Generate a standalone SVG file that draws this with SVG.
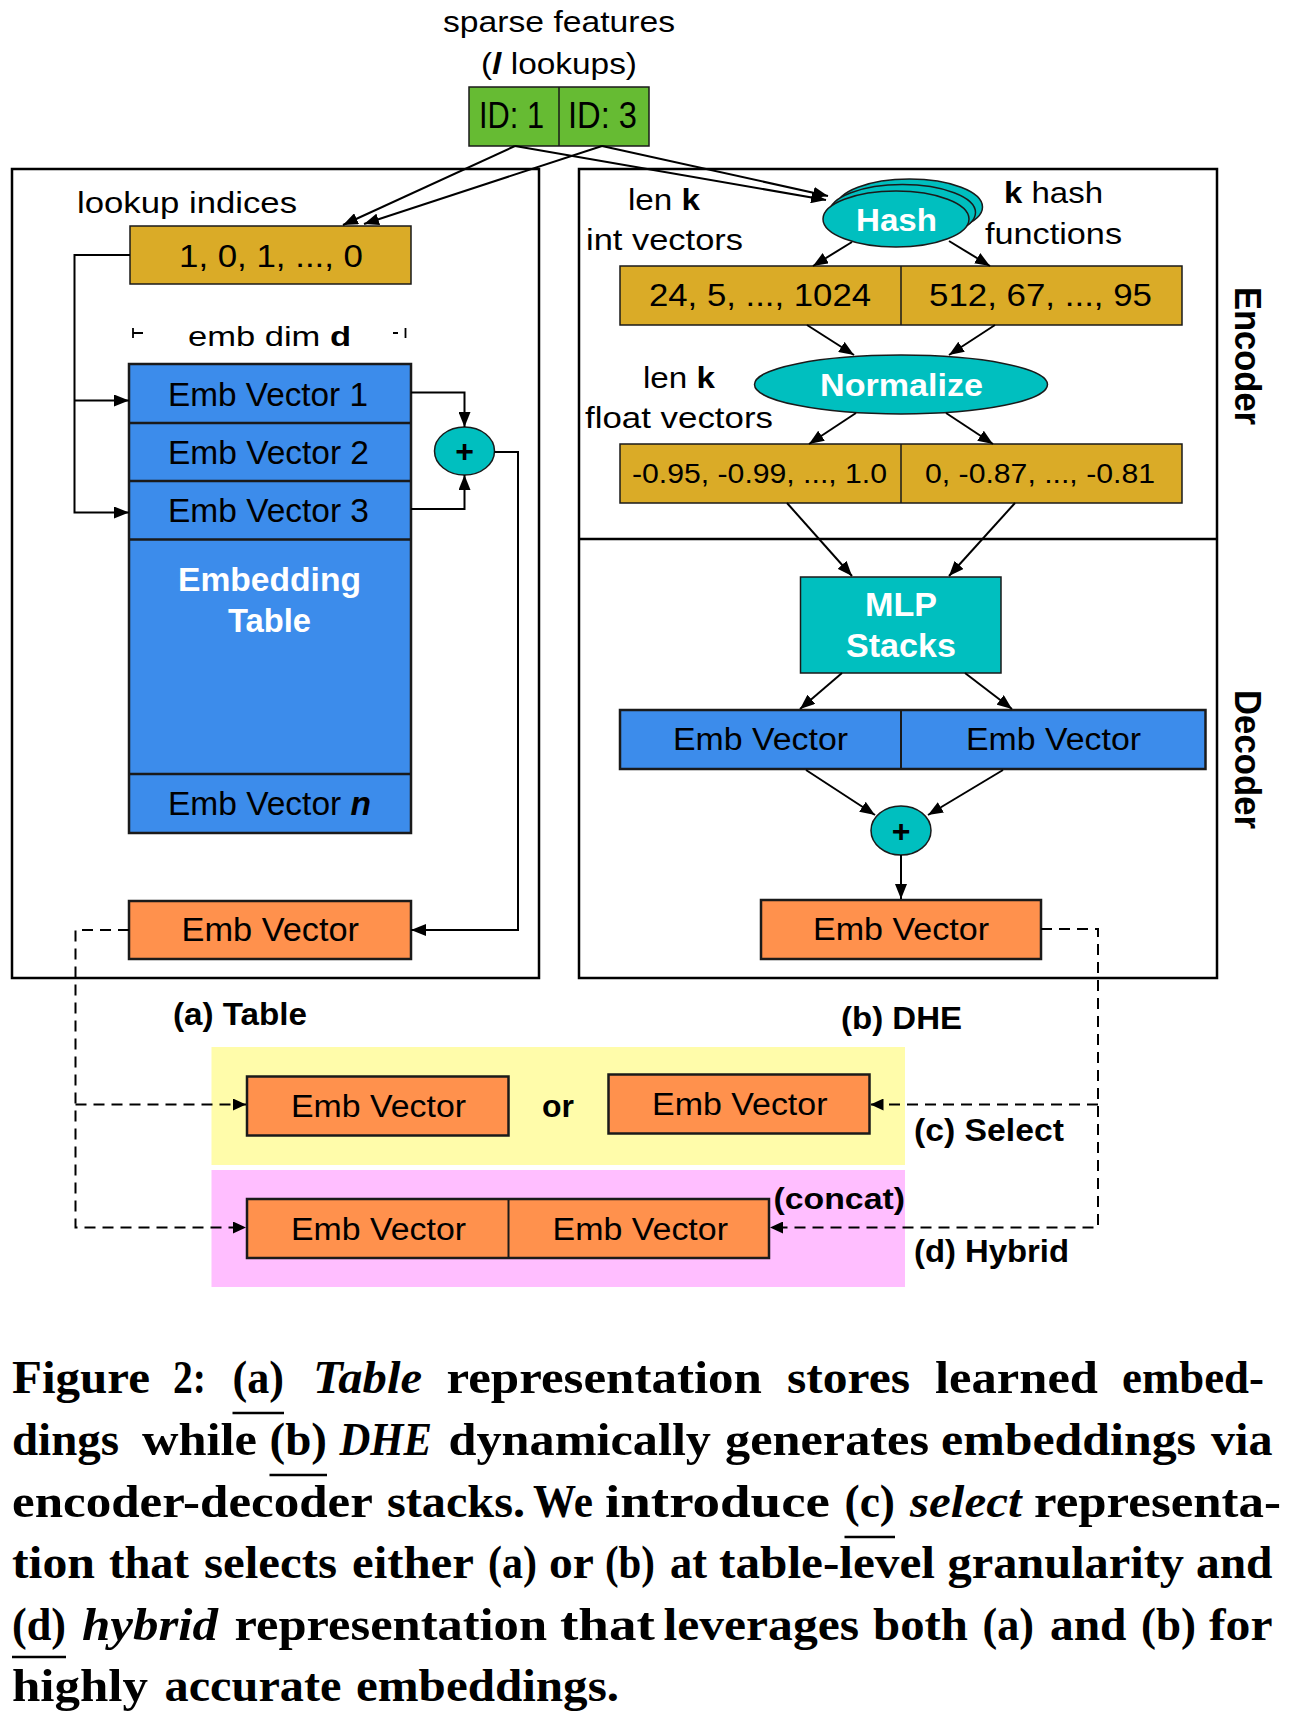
<svg xmlns="http://www.w3.org/2000/svg" width="1290" height="1717" viewBox="0 0 1290 1717">
<defs>
<marker id="ah" markerUnits="userSpaceOnUse" markerWidth="16" markerHeight="12" refX="15" refY="6" orient="auto"><path d="M0,0 L15,6 L0,12 z" fill="#000"/></marker>
<marker id="ahs" markerUnits="userSpaceOnUse" markerWidth="14" markerHeight="12" refX="13" refY="6" orient="auto"><path d="M0,0 L13,6 L0,12 z" fill="#000"/></marker>
</defs>
<style>
.t{font-family:"Liberation Sans",Arial,Helvetica,sans-serif;fill:#000}
.b{font-weight:bold}
.w{fill:#fff}
.box{stroke:#1a1a1a;stroke-width:2.5}
.thin{stroke:#1a1a1a;stroke-width:1.5}
.panel{fill:none;stroke:#000;stroke-width:2.5}
.ln{fill:none;stroke:#000;stroke-width:2}
.dash{fill:none;stroke:#000;stroke-width:2;stroke-dasharray:11 7}
.green{fill:#66BB33}
.gold{fill:#DAAB27}
.blue{fill:#3C8CEB}
.teal{fill:#00BFBF}
.orange{fill:#FF914D}
.cap{font-family:"Liberation Serif","Times New Roman",serif;font-weight:bold;font-size:46px;fill:#000}
.it{font-style:italic}
.ul{stroke:#000;stroke-width:2.5}
</style>
<rect width="1290" height="1717" fill="#fff"/>

<!-- backgrounds -->
<g id="select-region"><rect x="211.5" y="1047" width="693.5" height="118" fill="#FFFCAA"/></g>
<g id="hybrid-region"><rect x="211.5" y="1170" width="693.5" height="117" fill="#FFBEFF"/></g>

<!-- panels -->
<g id="panel-table"><rect class="panel" x="12" y="169" width="527" height="809"/></g>
<g id="panel-dhe"><rect class="panel" x="579" y="169" width="638" height="809"/><line x1="579" y1="539" x2="1217" y2="539" stroke="#000" stroke-width="2.5"/></g>

<!-- top input -->
<g id="sparse-features">
<text class="t" x="443" y="32" font-size="30" textLength="232" lengthAdjust="spacingAndGlyphs">sparse features</text>
<text class="t" x="481" y="74" font-size="30" textLength="156" lengthAdjust="spacingAndGlyphs">(<tspan class="b it">l</tspan> lookups)</text>
<rect class="green thin" x="469" y="87" width="180" height="59"/>
<line x1="559" y1="87" x2="559" y2="146" stroke="#1a1a1a" stroke-width="1.5"/>
<text class="t" x="479" y="128" font-size="36" textLength="65" lengthAdjust="spacingAndGlyphs">ID: 1</text>
<text class="t" x="568" y="128" font-size="36" textLength="69" lengthAdjust="spacingAndGlyphs">ID: 3</text>
</g>

<!-- (a) Table panel nodes -->
<g id="lookup-indices">
<text class="t" x="77" y="213" font-size="30" textLength="220" lengthAdjust="spacingAndGlyphs">lookup indices</text>
<rect class="gold thin" x="130" y="226" width="281" height="58"/>
<text class="t" x="179" y="267" font-size="31" textLength="184" lengthAdjust="spacingAndGlyphs">1, 0, 1, ..., 0</text>
</g>
<g id="emb-dim">
<text class="t" x="188" y="345.5" font-size="28" textLength="163" lengthAdjust="spacingAndGlyphs">emb dim <tspan class="b">d</tspan></text>
<path d="M133 328 V338 M133 333 H143 M393 333 H398 M405.5 328 V338" stroke="#000" stroke-width="1.8" fill="none"/>
</g>
<g id="embedding-table">
<rect class="blue box" x="129" y="364" width="282" height="469"/>
<path d="M129 423 H411 M129 481 H411 M129 539.5 H411 M129 774 H411" stroke="#1a1a1a" stroke-width="2.5"/>
<text class="t" x="168" y="406" font-size="33" textLength="200" lengthAdjust="spacingAndGlyphs">Emb Vector 1</text>
<text class="t" x="168" y="464" font-size="33" textLength="201" lengthAdjust="spacingAndGlyphs">Emb Vector 2</text>
<text class="t" x="168" y="522" font-size="33" textLength="201" lengthAdjust="spacingAndGlyphs">Emb Vector 3</text>
<text class="t b w" x="178" y="591" font-size="33" textLength="183" lengthAdjust="spacingAndGlyphs">Embedding</text>
<text class="t b w" x="228" y="631.5" font-size="33" textLength="83" lengthAdjust="spacingAndGlyphs">Table</text>
<text class="t" x="168" y="815" font-size="33" textLength="203" lengthAdjust="spacingAndGlyphs">Emb Vector <tspan class="b it">n</tspan></text>
</g>
<g id="sum-table">
<ellipse class="teal thin" cx="464.5" cy="451" rx="30" ry="24"/>
<text class="t b" x="464.5" y="462" font-size="32" text-anchor="middle">+</text>
</g>
<g id="emb-vector-table">
<rect class="orange box" x="129" y="901" width="282" height="58"/>
<text class="t" x="181.5" y="941" font-size="33" textLength="177.5" lengthAdjust="spacingAndGlyphs">Emb Vector</text>
</g>
<g id="label-a"><text class="t b" x="173" y="1024.5" font-size="31" textLength="134" lengthAdjust="spacingAndGlyphs">(a) Table</text></g>

<!-- (b) DHE panel nodes -->
<g id="label-int">
<text class="t" x="628" y="210" font-size="29" textLength="72" lengthAdjust="spacingAndGlyphs">len <tspan class="b">k</tspan></text>
<text class="t" x="586" y="250" font-size="29" textLength="157" lengthAdjust="spacingAndGlyphs">int vectors</text>
</g>
<g id="hash">
<ellipse class="teal thin" cx="909.5" cy="207" rx="73" ry="28"/>
<ellipse class="teal thin" cx="902.5" cy="212.5" rx="73" ry="28"/>
<ellipse class="teal thin" cx="896" cy="219" rx="73" ry="28"/>
<text class="t b w" x="856" y="231" font-size="32" textLength="81" lengthAdjust="spacingAndGlyphs">Hash</text>
<text class="t" x="1004" y="203" font-size="29" textLength="99" lengthAdjust="spacingAndGlyphs"><tspan class="b">k</tspan> hash</text>
<text class="t" x="985" y="244" font-size="29" textLength="137" lengthAdjust="spacingAndGlyphs">functions</text>
</g>
<g id="int-vectors">
<rect class="gold thin" x="620" y="266" width="562" height="59"/>
<line x1="901" y1="266" x2="901" y2="325" stroke="#1a1a1a" stroke-width="1.5"/>
<text class="t" x="649" y="306" font-size="31" textLength="222" lengthAdjust="spacingAndGlyphs">24, 5, ..., 1024</text>
<text class="t" x="929" y="306" font-size="31" textLength="223" lengthAdjust="spacingAndGlyphs">512, 67, ..., 95</text>
</g>
<g id="normalize">
<ellipse class="teal thin" cx="901" cy="384.5" rx="146.5" ry="29.5"/>
<text class="t b w" x="820" y="396" font-size="32" textLength="163" lengthAdjust="spacingAndGlyphs">Normalize</text>
</g>
<g id="label-float">
<text class="t" x="643" y="388" font-size="29" textLength="72" lengthAdjust="spacingAndGlyphs">len <tspan class="b">k</tspan></text>
<text class="t" x="585" y="428" font-size="29" textLength="188" lengthAdjust="spacingAndGlyphs">float vectors</text>
</g>
<g id="float-vectors">
<rect class="gold thin" x="620" y="444" width="562" height="59"/>
<line x1="901" y1="444" x2="901" y2="503" stroke="#1a1a1a" stroke-width="1.5"/>
<text class="t" x="632" y="483" font-size="27" textLength="255" lengthAdjust="spacingAndGlyphs">-0.95, -0.99, ..., 1.0</text>
<text class="t" x="925" y="483" font-size="27" textLength="230" lengthAdjust="spacingAndGlyphs">0, -0.87, ..., -0.81</text>
</g>
<g id="label-encoder"><text class="t b" transform="translate(1235,287) rotate(90)" font-size="37" textLength="138" lengthAdjust="spacingAndGlyphs">Encoder</text></g>
<g id="label-decoder"><text class="t b" transform="translate(1235,690) rotate(90)" font-size="37" textLength="139" lengthAdjust="spacingAndGlyphs">Decoder</text></g>
<g id="mlp">
<rect class="teal thin" x="800.5" y="577" width="200.5" height="96"/>
<text class="t b w" x="865" y="616" font-size="33" textLength="72" lengthAdjust="spacingAndGlyphs">MLP</text>
<text class="t b w" x="846" y="656.5" font-size="33" textLength="110" lengthAdjust="spacingAndGlyphs">Stacks</text>
</g>
<g id="dhe-emb-vectors">
<rect class="blue box" x="620" y="710" width="585.5" height="59"/>
<line x1="901" y1="710" x2="901" y2="769" stroke="#1a1a1a" stroke-width="2"/>
<text class="t" x="673" y="750" font-size="31" textLength="175" lengthAdjust="spacingAndGlyphs">Emb Vector</text>
<text class="t" x="966" y="750" font-size="31" textLength="175" lengthAdjust="spacingAndGlyphs">Emb Vector</text>
</g>
<g id="sum-dhe">
<ellipse class="teal thin" cx="901" cy="830.5" rx="30" ry="24.5"/>
<text class="t b" x="901" y="842" font-size="32" text-anchor="middle">+</text>
</g>
<g id="emb-vector-dhe">
<rect class="orange box" x="761" y="900" width="280" height="59"/>
<text class="t" x="813" y="940" font-size="31" textLength="176" lengthAdjust="spacingAndGlyphs">Emb Vector</text>
</g>
<g id="label-b"><text class="t b" x="841" y="1028.5" font-size="31" textLength="121" lengthAdjust="spacingAndGlyphs">(b) DHE</text></g>

<!-- (c) select -->
<g id="select-a">
<rect class="orange box" x="247" y="1076.5" width="261.5" height="59"/>
<text class="t" x="291" y="1117" font-size="31" textLength="175" lengthAdjust="spacingAndGlyphs">Emb Vector</text>
</g>
<g id="select-or"><text class="t b" x="542" y="1117" font-size="31" textLength="32" lengthAdjust="spacingAndGlyphs">or</text></g>
<g id="select-b">
<rect class="orange box" x="608.5" y="1074.5" width="261" height="59"/>
<text class="t" x="652" y="1114.5" font-size="31" textLength="175.5" lengthAdjust="spacingAndGlyphs">Emb Vector</text>
</g>
<g id="label-c"><text class="t b" x="914" y="1141" font-size="31" textLength="150" lengthAdjust="spacingAndGlyphs">(c) Select</text></g>

<!-- (d) hybrid -->
<g id="hybrid-concat">
<rect class="orange box" x="247" y="1199" width="522" height="59"/>
<line x1="508.5" y1="1199" x2="508.5" y2="1258" stroke="#1a1a1a" stroke-width="2"/>
<text class="t" x="291" y="1239.5" font-size="31" textLength="175" lengthAdjust="spacingAndGlyphs">Emb Vector</text>
<text class="t" x="552.5" y="1239.5" font-size="31" textLength="175.5" lengthAdjust="spacingAndGlyphs">Emb Vector</text>
</g>
<g id="label-concat"><text class="t b" x="773.5" y="1209" font-size="30" textLength="131.5" lengthAdjust="spacingAndGlyphs">(concat)</text></g>
<g id="label-d"><text class="t b" x="914" y="1262" font-size="31" textLength="155" lengthAdjust="spacingAndGlyphs">(d) Hybrid</text></g>

<!-- connectors -->
<g id="connectors">
<path class="ln" d="M515 146 L343 225" marker-end="url(#ah)"/>
<path class="ln" d="M602 146 L364 224" marker-end="url(#ah)"/>
<path class="ln" d="M515 146 L826 200" marker-end="url(#ah)"/>
<path class="ln" d="M602 146 L828 196" marker-end="url(#ah)"/>
<path class="ln" d="M130 255 H74.5 V512.5 H129" marker-end="url(#ah)"/>
<path class="ln" d="M74.5 400.5 H129" marker-end="url(#ah)"/>
<path class="ln" d="M411 392.5 H464.5 V427" marker-end="url(#ah)"/>
<path class="ln" d="M411 509 H464.5 V475" marker-end="url(#ah)"/>
<path class="ln" d="M494.5 452 H518 V930 H411" marker-end="url(#ah)"/>
<path class="ln" d="M852 242 L813 266" marker-end="url(#ah)"/>
<path class="ln" d="M949 241 L990 266" marker-end="url(#ah)"/>
<path class="ln" d="M807 325 L854 355" marker-end="url(#ah)"/>
<path class="ln" d="M995 325 L949 355" marker-end="url(#ah)"/>
<path class="ln" d="M856 413 L809 444" marker-end="url(#ah)"/>
<path class="ln" d="M946 413 L993 444" marker-end="url(#ah)"/>
<path class="ln" d="M787 503 L852 576" marker-end="url(#ah)"/>
<path class="ln" d="M1015 503 L949 576" marker-end="url(#ah)"/>
<path class="ln" d="M842 673 L800 709" marker-end="url(#ah)"/>
<path class="ln" d="M965 673 L1012 709" marker-end="url(#ah)"/>
<path class="ln" d="M806 770 L875 815" marker-end="url(#ah)"/>
<path class="ln" d="M1003 770 L928 815" marker-end="url(#ah)"/>
<path class="ln" d="M901 855 V899" marker-end="url(#ah)"/>
<path class="dash" d="M129 930 H75.5 V1227.5 H246" marker-end="url(#ahs)"/>
<path class="dash" d="M75.5 1104.5 H246" marker-end="url(#ahs)"/>
<path class="dash" d="M1041 929 H1098 V1227.5 H770" marker-end="url(#ahs)"/>
<path class="dash" d="M1098 1104.5 H870.5" marker-end="url(#ahs)"/>
</g>

<!-- caption -->
<g id="caption">
<text class="cap" y="1393"><tspan x="12" textLength="138" lengthAdjust="spacingAndGlyphs">Figure</tspan> <tspan x="173" textLength="33" lengthAdjust="spacingAndGlyphs">2:</tspan> <tspan x="232.5" textLength="51.5" lengthAdjust="spacingAndGlyphs">(a)</tspan> <tspan class="it" x="313" textLength="109" lengthAdjust="spacingAndGlyphs">Table</tspan> <tspan x="446.5" textLength="315.5" lengthAdjust="spacingAndGlyphs">representation</tspan> <tspan x="787" textLength="123" lengthAdjust="spacingAndGlyphs">stores</tspan> <tspan x="935" textLength="163" lengthAdjust="spacingAndGlyphs">learned</tspan> <tspan x="1122" textLength="142" lengthAdjust="spacingAndGlyphs">embed-</tspan></text>
<text class="cap" y="1455"><tspan x="12" textLength="107" lengthAdjust="spacingAndGlyphs">dings</tspan> <tspan x="142" textLength="115" lengthAdjust="spacingAndGlyphs">while</tspan> <tspan x="269.5" textLength="57.5" lengthAdjust="spacingAndGlyphs">(b)</tspan> <tspan class="it" x="339.5" textLength="92.5" lengthAdjust="spacingAndGlyphs">DHE</tspan> <tspan x="448.5" textLength="262.5" lengthAdjust="spacingAndGlyphs">dynamically</tspan> <tspan x="725" textLength="204" lengthAdjust="spacingAndGlyphs">generates</tspan> <tspan x="941" textLength="255" lengthAdjust="spacingAndGlyphs">embeddings</tspan> <tspan x="1211" textLength="61.5" lengthAdjust="spacingAndGlyphs">via</tspan></text>
<text class="cap" y="1517"><tspan x="12" textLength="360" lengthAdjust="spacingAndGlyphs">encoder-decoder</tspan> <tspan x="387" textLength="138" lengthAdjust="spacingAndGlyphs">stacks.</tspan> <tspan x="533" textLength="60" lengthAdjust="spacingAndGlyphs">We</tspan> <tspan x="605" textLength="225" lengthAdjust="spacingAndGlyphs">introduce</tspan> <tspan x="844.5" textLength="50.5" lengthAdjust="spacingAndGlyphs">(c)</tspan> <tspan class="it" x="910" textLength="111.5" lengthAdjust="spacingAndGlyphs">select</tspan> <tspan x="1034" textLength="247" lengthAdjust="spacingAndGlyphs">representa-</tspan></text>
<text class="cap" y="1578"><tspan x="12" textLength="83" lengthAdjust="spacingAndGlyphs">tion</tspan> <tspan x="109" textLength="80" lengthAdjust="spacingAndGlyphs">that</tspan> <tspan x="204" textLength="133" lengthAdjust="spacingAndGlyphs">selects</tspan> <tspan x="352" textLength="121" lengthAdjust="spacingAndGlyphs">either</tspan> <tspan x="488" textLength="49" lengthAdjust="spacingAndGlyphs">(a)</tspan> <tspan x="549" textLength="44" lengthAdjust="spacingAndGlyphs">or</tspan> <tspan x="605" textLength="50" lengthAdjust="spacingAndGlyphs">(b)</tspan> <tspan x="670" textLength="37" lengthAdjust="spacingAndGlyphs">at</tspan> <tspan x="719" textLength="216" lengthAdjust="spacingAndGlyphs">table-level</tspan> <tspan x="947.5" textLength="236.5" lengthAdjust="spacingAndGlyphs">granularity</tspan> <tspan x="1196" textLength="76.5" lengthAdjust="spacingAndGlyphs">and</tspan></text>
<text class="cap" y="1640"><tspan x="12" textLength="54" lengthAdjust="spacingAndGlyphs">(d)</tspan> <tspan class="it" x="82" textLength="136" lengthAdjust="spacingAndGlyphs">hybrid</tspan> <tspan x="234.5" textLength="312.5" lengthAdjust="spacingAndGlyphs">representation</tspan> <tspan x="560" textLength="95" lengthAdjust="spacingAndGlyphs">that</tspan> <tspan x="663.5" textLength="195.5" lengthAdjust="spacingAndGlyphs">leverages</tspan> <tspan x="873" textLength="95" lengthAdjust="spacingAndGlyphs">both</tspan> <tspan x="982.5" textLength="51.5" lengthAdjust="spacingAndGlyphs">(a)</tspan> <tspan x="1050" textLength="76.5" lengthAdjust="spacingAndGlyphs">and</tspan> <tspan x="1141" textLength="55" lengthAdjust="spacingAndGlyphs">(b)</tspan> <tspan x="1209" textLength="63.5" lengthAdjust="spacingAndGlyphs">for</tspan></text>
<text class="cap" y="1701"><tspan x="12" textLength="136" lengthAdjust="spacingAndGlyphs">highly</tspan> <tspan x="164.5" textLength="177" lengthAdjust="spacingAndGlyphs">accurate</tspan> <tspan x="356" textLength="263" lengthAdjust="spacingAndGlyphs">embeddings.</tspan></text>
<path class="ul" d="M232.5 1413 H284 M269.5 1475 H327 M844.5 1537 H895 M12 1657 H66"/>
</g>
</svg>
